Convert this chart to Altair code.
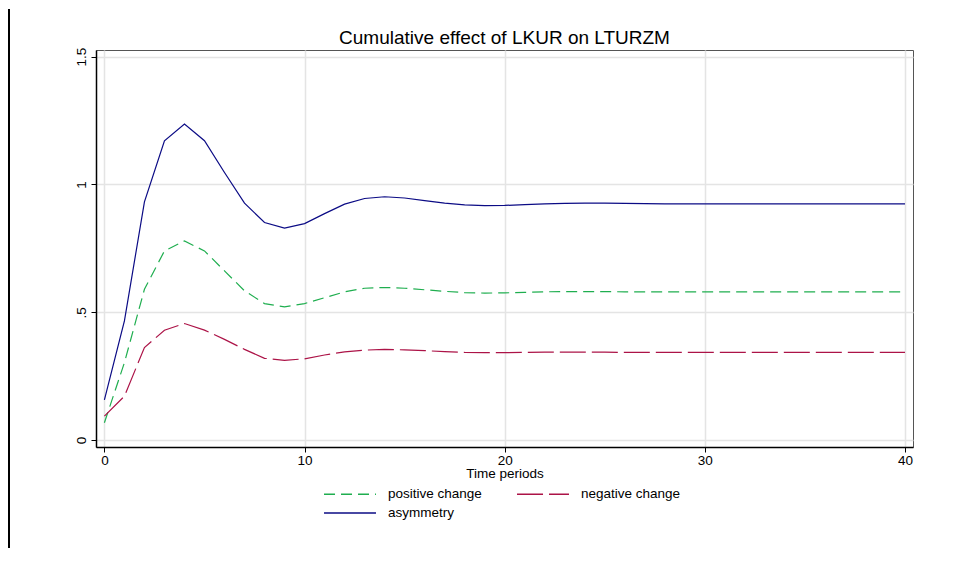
import altair as alt
import pandas as pd

periods = list(range(41))

positive = [0.068, 0.303, 0.590, 0.740, 0.779, 0.740, 0.662, 0.584, 0.534, 0.521,
            0.534, 0.557, 0.580, 0.594, 0.597, 0.594, 0.588, 0.582, 0.577, 0.575,
            0.576, 0.578, 0.580, 0.581, 0.581, 0.581, 0.580, 0.580, 0.580, 0.580,
            0.580, 0.580, 0.580, 0.580, 0.580, 0.580, 0.580, 0.580, 0.580, 0.580, 0.580]

negative = [0.094, 0.172, 0.362, 0.430, 0.456, 0.430, 0.394, 0.355, 0.320, 0.312,
            0.318, 0.333, 0.345, 0.352, 0.355, 0.353, 0.350, 0.346, 0.343, 0.342,
            0.342, 0.343, 0.344, 0.344, 0.344, 0.344, 0.343, 0.343, 0.343, 0.343,
            0.343, 0.343, 0.343, 0.343, 0.343, 0.343, 0.343, 0.343, 0.343, 0.343, 0.343]

asymmetry = [0.157, 0.466, 0.932, 1.171, 1.236, 1.171, 1.047, 0.927, 0.851, 0.829,
             0.847, 0.886, 0.923, 0.945, 0.952, 0.947, 0.937, 0.927, 0.920, 0.917,
             0.918, 0.921, 0.924, 0.926, 0.927, 0.927, 0.926, 0.925, 0.924, 0.924,
             0.924, 0.924, 0.924, 0.924, 0.924, 0.924, 0.924, 0.924, 0.924, 0.924, 0.924]

change_names = ["positive change", "negative change"]
change_colors = ["#1fae4f", "#ac1347"]
change_dashes = [[11, 6], [26, 6]]
asym_name = ["asymmetry"]
asym_color = ["#0b0b85"]

x_ticks = [0, 10, 20, 30, 40]
y_ticks = [0, 0.5, 1, 1.5]

rows = []
for name, vals in zip(change_names, [positive, negative]):
    for t, v in zip(periods, vals):
        rows.append({"t": t, "value": v, "series": name})
df_change = pd.DataFrame(rows)
df_asym = pd.DataFrame({"t": periods, "value": asymmetry, "series": asym_name * len(periods)})

FONT = "Liberation Sans"
FS = 13.5


def make_legend(y, cols):
    return alt.Legend(
        title=None, orient="none", legendX=227, legendY=y, columns=cols,
        direction="horizontal",
        symbolType="stroke", symbolSize=2700, symbolStrokeWidth=1.3,
        labelFontSize=FS, labelFont=FONT, labelColor="#000",
        labelOffset=11, columnPadding=32, padding=0,
    )


x_enc = alt.X("t:Q",
              scale=alt.Scale(domain=[-0.42, 40.4], nice=False, zero=False),
              axis=alt.Axis(values=x_ticks, title="Time periods", grid=True,
                            gridColor="#e4e4e4", gridWidth=1.5,
                            domainColor="#000", domainWidth=1.5,
                            tickColor="#000", tickSize=5, tickWidth=1,
                            labelFont=FONT, labelFontSize=FS, labelColor="#000",
                            labelPadding=1, titleFont=FONT, titleFontSize=FS,
                            titleFontWeight="normal", titleColor="#000", titlePadding=0))
y_enc = alt.Y("value:Q",
              scale=alt.Scale(domain=[-0.027, 1.526], nice=False, zero=False),
              axis=alt.Axis(values=y_ticks, title=None, grid=True,
                            gridColor="#e4e4e4", gridWidth=1.5,
                            domainColor="#000", domainWidth=1.5,
                            tickColor="#000", tickSize=5, tickWidth=1,
                            labelFont=FONT, labelFontSize=FS, labelColor="#000",
                            labelAngle=270, labelPadding=3, format="~g",
                            labelExpr="datum.value == 0.5 ? '.5' : datum.label",
                            minExtent=38, maxExtent=38))

leg1 = make_legend(417, 2)
change_lines = alt.Chart(df_change).mark_line(strokeWidth=1.2).encode(
    x=x_enc, y=y_enc,
    color=alt.Color("series:N", scale=alt.Scale(domain=change_names, range=change_colors),
                    legend=leg1),
    strokeDash=alt.StrokeDash("series:N", scale=alt.Scale(domain=change_names, range=change_dashes),
                              legend=leg1),
)

asym_line = alt.Chart(df_asym).mark_line(strokeWidth=1.2).encode(
    x=x_enc, y=y_enc,
    color=alt.Color("series:N", scale=alt.Scale(domain=asym_name, range=asym_color),
                    legend=make_legend(436, 1)),
)

frame = alt.Chart(pd.DataFrame({"k": [0]})).mark_rule(color="#000", strokeWidth=2).encode(
    x=alt.value(-87), y=alt.value(-41), y2=alt.value(498)
)

chart = alt.layer(change_lines, asym_line, frame).resolve_scale(
    color="independent", strokeDash="independent"
).properties(
    width=817, height=397,
    padding={"left": 0, "top": 0, "right": 5, "bottom": 0},
    title=alt.TitleParams("Cumulative effect of LKUR on LTURZM", font=FONT, fontSize=19,
                          fontWeight="normal", color="#000", offset=-40, anchor="middle"),
).configure_view(stroke="#555", strokeWidth=1)

chart.save("out.html", embed_options={"renderer": "svg", "actions": False})
